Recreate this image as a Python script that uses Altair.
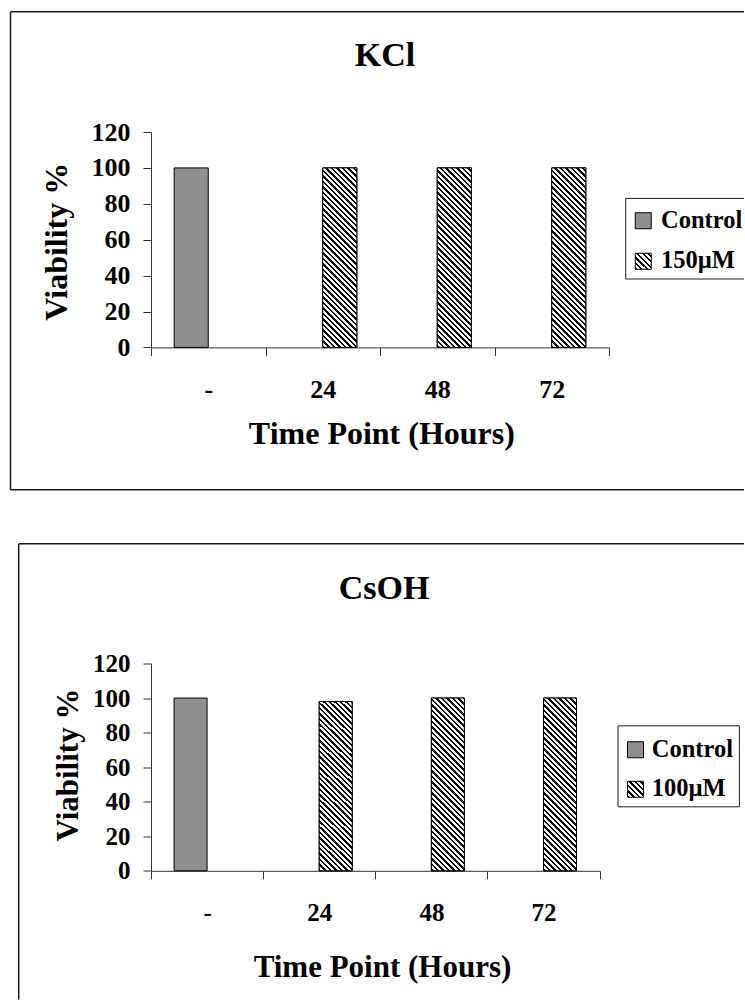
import altair as alt
import pandas as pd

# ---------------- data ----------------
categories = ["-", "24", "48", "72"]
series_control = "Control"

kcl_title = "KCl"
kcl_treat_name = "150µM"
kcl_control = [100, None, None, None]
kcl_treat = [None, 100, 100, 100]

csoh_title = "CsOH"
csoh_treat_name = "100µM"
csoh_control = [100, None, None, None]
csoh_treat = [None, 98, 100, 100]

y_ticks = [0, 20, 40, 60, 80, 100, 120]

FONT = "Liberation Serif"
INK = "#1a1a1a"
CTRL_FILL = "#8f8f8f"


def make_df(ctrl_vals, trt_vals, trt_name):
    rows = []
    for cat, c, t in zip(categories, ctrl_vals, trt_vals):
        if c is not None:
            rows.append({"time": cat, "series": series_control, "value": c})
        if t is not None:
            rows.append({"time": cat, "series": trt_name, "value": t})
    return pd.DataFrame(rows)


def stripe_stops(span, period=5.5, frac=0.45):
    stops = []
    k = 0
    while k * period < span:
        a = k * period / span
        b = min((k * period + frac * period) / span, 1.0)
        c = min((k + 1) * period / span, 1.0)
        stops += [(a, "black"), (b, "black"), (b, "white"), (c, "white")]
        k += 1
    return [(round(o, 5), col) for o, col in stops]


def bar_gradient(w, h):
    s = (w + h) / (w * w + h * h)
    stops = stripe_stops(w + h)
    return alt.LinearGradient(
        gradient="linear",
        x1=0, y1=1, x2=round(s * w, 5), y2=round(1 - s * h, 5),
        stops=[alt.GradientStop(offset=o, color=c) for o, c in stops],
    )


def legend_gradient_expr(side=16):
    stops = stripe_stops(2 * side)
    st = ",".join("{offset:%s,color:'%s'}" % (o, c) for o, c in stops)
    return "{gradient:'linear',x1:0,y1:1,x2:1,y2:0,stops:[%s]}" % st


def one():
    return alt.Data(values=[{"k": 1}])


def hrule(x1, x2, y, **kw):
    return alt.Chart(one()).mark_rule(**kw).encode(
        x=alt.value(x1), x2=alt.value(x2), y=alt.value(y))


def vrule(x, y1, y2, **kw):
    return alt.Chart(one()).mark_rule(**kw).encode(
        x=alt.value(x), y=alt.value(y1), y2=alt.value(y2))


def panel(title, trt_name, ctrl_vals, trt_vals, W, H, frame, title_pos,
          ytitle_pos, ytitle_size, xtitle_pos, xtitle_size, tick_size,
          legend_pos, legend_size, legend_offset, legend_row, legend_box,
          pad_outer=0.68):
    df = make_df(ctrl_vals, trt_vals, trt_name)
    series_domain = [series_control, trt_name]
    bar_w = (W / len(categories)) / (2 + 2 * pad_outer)
    bar_h = H * 100 / 120

    x = alt.X("time:N", sort=categories,
              scale=alt.Scale(domain=categories, paddingInner=0, paddingOuter=0),
              axis=alt.Axis(
                  title="Time Point (Hours)", titleFont=FONT, titleFontSize=xtitle_size,
                  titleFontWeight="bold", titleColor="black", titleBaseline="alphabetic",
                  titleX=xtitle_pos[0], titleY=xtitle_pos[1],
                  labelFont=FONT, labelFontSize=tick_size, labelFontWeight="bold",
                  labelColor="black", labelBaseline="alphabetic", labelPadding=42,
                  labelAngle=0, tickSize=8, tickColor="#333", domainColor="#333",
                  tickBand="extent", grid=False))
    xo = alt.XOffset("series:N", sort=series_domain,
                     scale=alt.Scale(domain=series_domain, paddingInner=0,
                                     paddingOuter=pad_outer))
    y = alt.Y("value:Q",
              scale=alt.Scale(domain=[0, 120], nice=False, zero=True),
              axis=alt.Axis(
                  values=y_ticks, title="Viability %", titleFont=FONT,
                  titleFontSize=ytitle_size, titleFontWeight="bold", titleColor="black",
                  titleBaseline="alphabetic", titleAlign="center", titleAngle=270,
                  titleX=ytitle_pos[0], titleY=ytitle_pos[1],
                  labelFont=FONT, labelFontSize=tick_size, labelFontWeight="bold",
                  labelColor="black", labelPadding=13, tickSize=8, tickColor="#333",
                  domainColor="#333", grid=False))

    base = alt.Chart(df)
    bars = base.mark_bar(stroke="black", strokeWidth=1).encode(
        x=x, xOffset=xo, y=y,
        color=alt.Color("series:N", sort=series_domain,
                        scale=alt.Scale(domain=series_domain,
                                        range=[CTRL_FILL, alt.ExprRef(legend_gradient_expr())]),
                        legend=alt.Legend(
                            orient="none", legendX=legend_pos[0], legendY=legend_pos[1],
                            title=None, direction="vertical", padding=0,
                            labelFont=FONT, labelFontSize=legend_size,
                            labelFontWeight="bold", labelColor="black",
                            labelOffset=legend_offset, rowPadding=legend_row,
                            symbolSize=256, symbolType="square",
                            symbolStrokeColor="black", symbolStrokeWidth=1,
                            labelLimit=0)),
    )
    stripes = base.transform_filter(alt.datum.series == trt_name).mark_bar(
        stroke="black", strokeWidth=1, fill=bar_gradient(bar_w, bar_h)
    ).encode(x=x, xOffset=xo, y=y)

    # chart-area frame (right side runs off the page)
    fl, ft, fr, fb, fend = frame
    rk = dict(color=INK, strokeWidth=1.5)
    layers = [vrule(fl, ft, fend, **rk), hrule(fl, fr, ft, **rk)]
    if fb is not None:
        layers.append(hrule(fl, fr, fb, **rk))

    # legend box
    bl, bt, br, bb, right_side = legend_box
    lk = dict(color=INK, strokeWidth=1)
    layers += [vrule(bl, bt, bb, **lk), hrule(bl, br, bt, **lk), hrule(bl, br, bb, **lk)]
    if right_side:
        layers.append(vrule(br, bt, bb, **lk))

    ttl = alt.Chart(one()).mark_text(
        text=title, font=FONT, fontSize=34, fontWeight="bold", color="black",
        align="center", baseline="alphabetic"
    ).encode(x=alt.value(title_pos[0]), y=alt.value(title_pos[1]))

    return alt.layer(*layers, bars, stripes, ttl).properties(width=W, height=H)


top = panel(kcl_title, kcl_treat_name, kcl_control, kcl_treat,
            W=458, H=215.4, frame=(-140.5, -120.3, 593, 357.7, 357.7),
            title_pos=(234, -66.3), ytitle_pos=(-85, 109.2), ytitle_size=32,
            xtitle_pos=(230.4, 96), xtitle_size=32, tick_size=26,
            legend_pos=(480, 76.5), legend_size=24.5, legend_offset=5.5,
            legend_row=15.5, legend_box=(474.7, 66.4, 593, 147, False))

bottom = panel(csoh_title, csoh_treat_name, csoh_control, csoh_treat,
               W=448.6, H=207.3, frame=(-132.3, -119.7, 593, None, 336),
               title_pos=(233, -65), ytitle_pos=(-74, 101.1), ytitle_size=31,
               xtitle_pos=(231, 106), xtitle_size=31, tick_size=25,
               legend_pos=(472.25, 74), legend_size=24.5, legend_offset=4,
               legend_row=14.5, legend_box=(467, 62.3, 588.4, 143.3, True),
               pad_outer=0.7)

chart = alt.concat(top, bottom, columns=1, spacing=51.5).resolve_scale(
    color="independent", x="independent", y="independent", xOffset="independent"
).resolve_legend(color="independent").properties(
    padding={"left": 9, "top": 10, "right": 0, "bottom": 0},
    background="white",
).configure_view(stroke=None)

chart.save("out.html", embed_options={"renderer": "svg", "actions": False})
